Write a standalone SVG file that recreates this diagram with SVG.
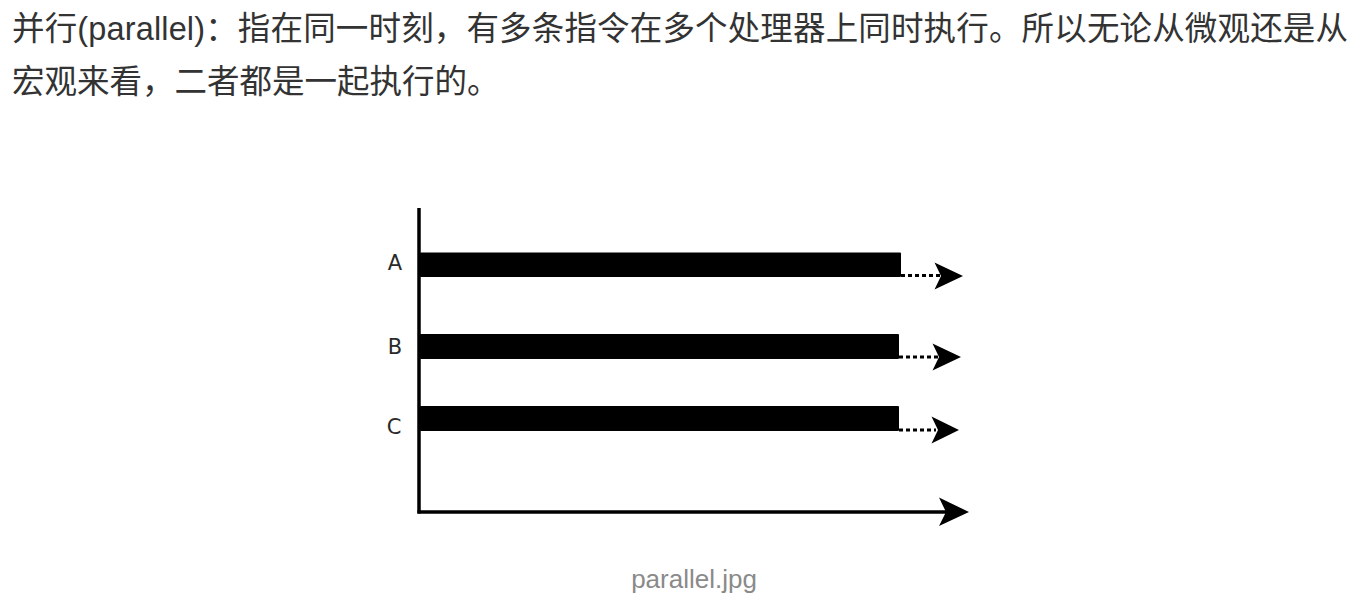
<svg xmlns="http://www.w3.org/2000/svg" width="1368" height="612" viewBox="0 0 1368 612">
  <defs>
    <style>
      .body { font-family: "Liberation Sans", "Noto Sans CJK SC", sans-serif; font-size: 32.5px; fill: #333333; }
      .lbl { font-family: "DejaVu Sans", "Liberation Sans", sans-serif; font-size: 21px; fill: #2a2a2a; text-anchor: middle; }
      .cap { font-family: "Liberation Sans", "Noto Sans CJK SC", sans-serif; font-size: 26px; fill: #8a8a8a; text-anchor: middle; }
      .axis { stroke: #000000; stroke-width: 3.5; fill: none; }
      .bar { fill: #000000; }
      .dots { stroke: #000000; stroke-width: 3; stroke-dasharray: 4 3; fill: none; }
      .head { fill: #000000; }
    </style>
  </defs>
  <rect width="1368" height="612" fill="#ffffff"/>

  <g id="paragraph">
    <text class="body" x="12" y="40" textLength="1336" lengthAdjust="spacing">并行(parallel)：指在同一时刻，有多条指令在多个处理器上同时执行。所以无论从微观还是从</text>
    <text class="body" x="12" y="92.5">宏观来看，二者都是一起执行的。</text>
  </g>

  <g id="axes">
    <line class="axis" x1="419" y1="208" x2="419" y2="513.5"/>
    <line class="axis" x1="417.5" y1="512" x2="948" y2="512"/>
    <path class="head" d="M939,497.5 L969,512 L939,526 L946,512 Z"/>
  </g>

  <g id="node-A">
    <rect class="bar" x="420" y="252.5" width="481" height="24.5" rx="1"/>
    <text class="lbl" x="395" y="269.5">A</text>
  </g>
  <g id="node-B">
    <rect class="bar" x="420" y="334" width="479" height="25" rx="1"/>
    <text class="lbl" x="395" y="354">B</text>
  </g>
  <g id="node-C">
    <rect class="bar" x="420" y="406" width="479" height="25" rx="1"/>
    <text class="lbl" x="394" y="433.5">C</text>
  </g>

  <g id="connectors">
    <line class="dots" x1="901" y1="275.5" x2="940" y2="275.5"/>
    <path class="head" d="M934.5,262.5 L963,276 L934.5,289.5 L941,276 Z"/>
    <line class="dots" x1="899" y1="357" x2="938" y2="357"/>
    <path class="head" d="M932.5,343.5 L961,357 L932.5,370.5 L939,357 Z"/>
    <line class="dots" x1="899" y1="430" x2="936" y2="430"/>
    <path class="head" d="M931.5,416.5 L959,430 L931.5,443.5 L938,430 Z"/>
  </g>

  <g id="caption">
    <text class="cap" x="694" y="588">parallel.jpg</text>
  </g>
</svg>
